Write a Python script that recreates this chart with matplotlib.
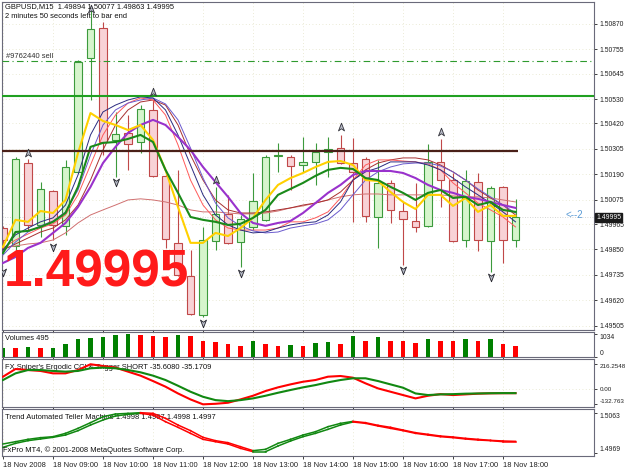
import matplotlib
matplotlib.use("Agg")
import matplotlib.pyplot as plt
from matplotlib.patches import Rectangle
from matplotlib.path import Path
from matplotlib.transforms import blended_transform_factory

plt.rcParams['font.family'] = ['Liberation Sans', 'DejaVu Sans']

############################################
# 1. data (GBPUSD M15, 18 Nov 2008)
############################################
opens = [1.49948, 1.49867, 1.50242, 1.49962, 1.50115, 1.49957, 1.50201, 1.50716, 1.50852, 1.50346,
         1.50377, 1.50337, 1.50481, 1.50183, 1.49880, 1.49731, 1.49555, 1.49889, 1.50011, 1.49885,
         1.49952, 1.49985, 1.50274, 1.50269, 1.50233, 1.50246, 1.50291, 1.50310, 1.50242, 1.50260,
         1.49998, 1.50151, 1.50025, 1.49980, 1.49957, 1.50246, 1.50165, 1.49894, 1.50156, 1.49889,
         1.50133, 1.49894]
highs = [1.49957, 1.50269, 1.50260, 1.50156, 1.50120, 1.50255, 1.50707, 1.50933, 1.50879, 1.50472,
         1.50459, 1.50504, 1.50526, 1.50210, 1.50210, 1.49849, 1.49952, 1.50133, 1.50097, 1.50007,
         1.50197, 1.50278, 1.50332, 1.50278, 1.50359, 1.50332, 1.50359, 1.50368, 1.50355, 1.50269,
         1.50255, 1.50165, 1.50065, 1.50151, 1.50328, 1.50350, 1.50197, 1.50210, 1.50197, 1.50135,
         1.50138, 1.50077]
lows = [1.49849, 1.49849, 1.49939, 1.49907, 1.49894, 1.49916, 1.50197, 1.50526, 1.50278, 1.50178,
        1.50210, 1.50287, 1.50178, 1.49857, 1.49731, 1.49555, 1.49546, 1.49849, 1.49876, 1.49772,
        1.49939, 1.49980, 1.50201, 1.50120, 1.50201, 1.50142, 1.50178, 1.50238, 1.49975, 1.49975,
        1.49857, 1.49971, 1.49781, 1.49930, 1.49953, 1.50043, 1.49885, 1.49862, 1.49844, 1.49749,
        1.49790, 1.49863]
closes = [1.49894, 1.50260, 1.49962, 1.50124, 1.49962, 1.50224, 1.50698, 1.50847, 1.50337, 1.50373,
          1.50328, 1.50486, 1.50183, 1.49898, 1.49736, 1.49559, 1.49894, 1.50011, 1.49880, 1.49989,
          1.50070, 1.50269, 1.50278, 1.50228, 1.50246, 1.50291, 1.50305, 1.50242, 1.50201, 1.50002,
          1.50151, 1.50029, 1.49989, 1.49952, 1.50246, 1.50165, 1.49889, 1.50160, 1.49894, 1.50129,
          1.49894, 1.49995]

ma_yellow = [1.49862, 1.49984, 1.49975, 1.50024, 1.50015, 1.50074, 1.50286, 1.50467, 1.50431, 1.50413,
             1.50390, 1.50413, 1.50345, 1.50210, 1.50042, 1.49880, 1.49880, 1.49925, 1.49911, 1.49947,
             1.49993, 1.50074, 1.50142, 1.50173, 1.50196, 1.50223, 1.50246, 1.50250, 1.50232, 1.50164,
             1.50160, 1.50110, 1.50065, 1.50033, 1.50097, 1.50097, 1.50047, 1.50083, 1.50020, 1.50051,
             1.50002, 1.50002]
ma_green = [1.49834, 1.49929, 1.49934, 1.49952, 1.49975, 1.50015, 1.50133, 1.50314, 1.50332, 1.50336,
            1.50350, 1.50368, 1.50336, 1.50210, 1.50106, 1.49997, 1.49984, 1.49975, 1.49961, 1.49966,
            1.49993, 1.50029, 1.50097, 1.50124, 1.50151, 1.50183, 1.50210, 1.50219, 1.50214, 1.50173,
            1.50164, 1.50133, 1.50106, 1.50074, 1.50106, 1.50119, 1.50083, 1.50088, 1.50051, 1.50065,
            1.50029, 1.50020]
ma_purple = [1.49789, 1.49816, 1.49857, 1.49880, 1.49925, 1.49970, 1.50042, 1.50133, 1.50241, 1.50314,
             1.50377, 1.50413, 1.50436, 1.50413, 1.50359, 1.50300, 1.50223, 1.50155, 1.50088, 1.50015,
             1.49970, 1.49957, 1.49970, 1.49979, 1.50015, 1.50060, 1.50106, 1.50142, 1.50187, 1.50205,
             1.50205, 1.50205, 1.50196, 1.50173, 1.50142, 1.50119, 1.50106, 1.50088, 1.50079, 1.50065,
             1.50051, 1.50038]
ma_navy = [1.49848, 1.49916, 1.49947, 1.49975, 1.49993, 1.50051, 1.50187, 1.50368, 1.50472, 1.50503,
           1.50526, 1.50540, 1.50535, 1.50481, 1.50368, 1.50232, 1.50097, 1.50006, 1.49961, 1.49938,
           1.49925, 1.49929, 1.49947, 1.49961, 1.49970, 1.49975, 1.50006, 1.50065, 1.50164, 1.50201,
           1.50219, 1.50246, 1.50246, 1.50246, 1.50232, 1.50210, 1.50173, 1.50133, 1.50097, 1.50060,
           1.50020, 1.49975]
ma_blue = [1.49825, 1.49884, 1.49929, 1.49957, 1.49979, 1.50020, 1.50119, 1.50277, 1.50413, 1.50481,
           1.50512, 1.50526, 1.50535, 1.50508, 1.50436, 1.50309, 1.50173, 1.50060, 1.49993, 1.49957,
           1.49934, 1.49925, 1.49929, 1.49947, 1.49957, 1.49966, 1.49984, 1.50029, 1.50097, 1.50164,
           1.50201, 1.50223, 1.50237, 1.50241, 1.50241, 1.50228, 1.50201, 1.50164, 1.50124, 1.50088,
           1.50051, 1.50015]
ma_red = [1.49857, 1.49893, 1.49920, 1.49947, 1.49966, 1.50006, 1.50097, 1.50232, 1.50368, 1.50458,
          1.50512, 1.50535, 1.50526, 1.50458, 1.50323, 1.50164, 1.50051, 1.49984, 1.49947, 1.49938,
          1.49938, 1.49938, 1.49947, 1.49975, 1.49975, 1.49993, 1.50020, 1.50083, 1.50164, 1.50232,
          1.50255, 1.50255, 1.50250, 1.50246, 1.50237, 1.50210, 1.50151, 1.50106, 1.50060, 1.50029,
          1.49997, 1.49952]
ma_brown = [1.49848, 1.49875, 1.49902, 1.49929, 1.49947, 1.49984, 1.50051, 1.50164, 1.50300, 1.50413,
            1.50481, 1.50517, 1.50526, 1.50503, 1.50413, 1.50277, 1.50164, 1.50074, 1.50029, 1.50015,
            1.50015, 1.50020, 1.50029, 1.50038, 1.50051, 1.50060, 1.50074, 1.50110, 1.50164, 1.50210,
            1.50241, 1.50255, 1.50264, 1.50264, 1.50255, 1.50232, 1.50201, 1.50164, 1.50119, 1.50083,
            1.50051, 1.50006]
ma_slow = [1.49857, 1.49866, 1.49875, 1.49880, 1.49893, 1.49925, 1.49970, 1.50006, 1.50029, 1.50051,
           1.50074, 1.50079, 1.50074, 1.50065, 1.50051, 1.50029, 1.50020, 1.50020, 1.50015, 1.50011,
           1.50011, 1.50015, 1.50024, 1.50038, 1.50047, 1.50060, 1.50074, 1.50088, 1.50097, 1.50101,
           1.50101, 1.50097, 1.50097, 1.50097, 1.50097, 1.50097, 1.50092, 1.50088, 1.50088, 1.50083,
           1.50074, 1.50065]

# fractal arrows (bar index, price)
up_idx = [2, 7, 12, 17, 27, 35]
up_px = [1.50287, 1.50937, 1.50562, 1.50165, 1.50404, 1.50381]
dn_idx = [0, 4, 9, 16, 19, 32, 39]
dn_px = [1.49749, 1.49862, 1.50156, 1.49518, 1.49744, 1.49758, 1.49726]

sell_level = 1.50702
green_level = 1.50544
brown_level = 1.50296
bid = 1.49995

volumes = [380, 370, 442, 373, 400, 580, 814, 856, 883, 966, 1034, 980, 925, 883, 1007, 952, 718, 676,
           552, 497, 690, 566, 469, 538, 483, 607, 649, 552, 925, 718, 883, 718, 700, 607, 787, 718,
           690, 814, 718, 814, 552, 495]

ergodic = [108, 175, 166, 158, 137, 137, 166, 216.25, 201, 187, 152, 117, 70, 21, -38, -90, -132.76,
           -128, -119, -90, -58, -17, 15, 41, 64, 79, 108, 114, 99, 50, 6, -23, -52, -81, -58, -44,
           -52, -46, -40, -37, -36, -35.6]
trigger = [79, 137, 166, 166, 158, 152, 158, 181, 187, 181, 166, 146, 117, 79, 29, -23, -67, -96, -105,
           -96, -81, -58, -32, -8, 15, 35, 59, 79, 94, 94, 70, 41, 12, -38, -52, -46, -44, -40, -38,
           -36, -35, -35.2]

tatm_a = [1.49819, 1.49912, 1.49975, 1.50014, 1.50053, 1.50107, 1.50209, 1.50341, 1.50458, 1.50552,
          1.50591, 1.50614, 1.50575, 1.50419, 1.50287, 1.50146, 1.50006, 1.49951, 1.49897, 1.49795,
          1.49717, 1.49717, 1.49850, 1.49967, 1.50068, 1.50146, 1.50240, 1.50341, 1.50412, 1.50380,
          1.50318, 1.50263, 1.50209, 1.50146, 1.50107, 1.50068, 1.50045, 1.50014, 1.49990, 1.49975,
          1.49951, 1.49951]
tatm_b = [1.49897, 1.49951, 1.50006, 1.50045, 1.50068, 1.50146, 1.50263, 1.50396, 1.50536, 1.50599,
          1.50614, 1.50630, 1.50614, 1.50497, 1.50341, 1.50209, 1.50053, 1.49975, 1.49928, 1.49834,
          1.49741, 1.49772, 1.49912, 1.50006, 1.50107, 1.50185, 1.50302, 1.50380, 1.50427, 1.50396,
          1.50334, 1.50287, 1.50224, 1.50162, 1.50123, 1.50084, 1.50061, 1.50029, 1.50006, 1.49983,
          1.49967, 1.49959]

price_ticks = [1.50870, 1.50755, 1.50645, 1.50530, 1.50420, 1.50305, 1.50190, 1.50075,
               1.49965, 1.49850, 1.49735, 1.49620, 1.49505]
time_ticks = [0, 4, 8, 12, 16, 20, 24, 28, 32, 36, 40]
time_labels = ["18 Nov 2008", "18 Nov 09:00", "18 Nov 10:00", "18 Nov 11:00", "18 Nov 12:00",
               "18 Nov 13:00", "18 Nov 14:00", "18 Nov 15:00", "18 Nov 16:00", "18 Nov 17:00",
               "18 Nov 18:00"]

############################################
# 2. layout
############################################
W, H = 625, 469
fig = plt.figure(figsize=(W / 100, H / 100), dpi=100)
fig.patch.set_facecolor("white")

def rect(top, bottom, left=2, right=594):
    return [left / W, 1 - bottom / H, (right - left) / W, (bottom - top) / H]

ax_main = fig.add_axes(rect(2, 330))
ax_vol = fig.add_axes(rect(332, 357))
ax_erg = fig.add_axes(rect(359, 407))
ax_tr = fig.add_axes(rect(409, 456))

FS = 5.4      # header / panel labels
YFS = 4.9     # right-hand scale labels
GRID = "#e4e4c8"
xs = list(range(len(closes)))

for ax in (ax_main, ax_vol, ax_erg, ax_tr):
    ax.set_xlim(-0.08, 47.28)
    ax.set_facecolor("white")
    for s in ax.spines.values():
        s.set_color("#6a6a7a")
        s.set_linewidth(0.8)
    ax.yaxis.tick_right()
    ax.tick_params(axis="y", direction="out", length=2.5, width=0.6, pad=1.5,
                   labelsize=YFS, colors="#202020")
    ax.set_xticks(time_ticks)
    ax.tick_params(axis="x", direction="out", length=2.5, width=0.6, pad=1.5,
                   labelsize=FS, colors="#202020")
    for t in time_ticks:
        ax.axvline(t, color=GRID, lw=0.6, ls=(0, (1, 3)), zorder=0)
    if ax is not ax_tr:
        ax.set_xticklabels([])

############################################
# 3. main price panel
############################################
ax_main.set_ylim(1.49486, 1.50969)
ax_main.set_yticks(price_ticks)
ax_main.set_yticklabels([f"{p:.5f}" for p in price_ticks])
for p in price_ticks:
    ax_main.axhline(p, color=GRID, lw=0.6, ls=(0, (1, 3)), zorder=0)

bw = 0.58
for i in xs:
    o, h, l, c = opens[i], highs[i], lows[i], closes[i]
    if c >= o:
        ec, fc = "#3c9a3c", "#d6f5cc"
    else:
        ec, fc = "#c04848", "#f8d2d6"
    ax_main.vlines(i, l, h, color=ec, lw=0.8, zorder=2)
    lo, hi = min(o, c), max(o, c)
    ax_main.add_patch(Rectangle((i - bw / 2, lo), bw, max(hi - lo, 0.00002),
                                facecolor=fc, edgecolor=ec, lw=0.8, zorder=2))

ax_main.plot(xs, ma_slow, color="#d07070", lw=0.7, zorder=3)
ax_main.plot(xs, ma_brown, color="#a83030", lw=0.7, zorder=3)
ax_main.plot(xs, ma_red, color="#ff5a5a", lw=0.7, zorder=3)
ax_main.plot(xs, ma_blue, color="#6a5acd", lw=0.7, zorder=3)
ax_main.plot(xs, ma_navy, color="#2a2a80", lw=0.7, zorder=3)
ax_main.plot(xs, ma_purple, color="#9932cc", lw=1.5, zorder=3)
ax_main.plot(xs, ma_yellow, color="#ffd000", lw=1.5, zorder=3)
ax_main.plot(xs, ma_green, color="#1a8a1a", lw=1.5, zorder=3)

ax_main.axhline(sell_level, color="#2e9a2e", lw=0.8, ls=(0, (6, 3, 1, 3)), zorder=4)
ax_main.axhline(green_level, color="#20a020", lw=1.5, zorder=4)
ax_main.hlines(brown_level, -0.08, 41.2, color="#4a2018", lw=1.6, zorder=4)
ax_main.axhline(bid, color="#c8c8c8", lw=0.6, ls=(0, (1, 2)), zorder=1)

# fractal arrows
arrow = Path([(0, 1), (0.7, -0.8), (0, -0.3), (-0.7, -0.8), (0, 1)],
             [Path.MOVETO, Path.LINETO, Path.LINETO, Path.LINETO, Path.CLOSEPOLY])
arrow_dn = Path([(x, -y) for x, y in arrow.vertices], arrow.codes)
ax_main.scatter(up_idx, up_px, marker=arrow, s=38, facecolor="#b8bcc8",
                edgecolor="#303038", linewidths=0.6, zorder=5)
ax_main.scatter(dn_idx, dn_px, marker=arrow_dn, s=38, facecolor="#b8bcc8",
                edgecolor="#202028", linewidths=0.6, zorder=5)

# current price tag on the axis
trans = blended_transform_factory(ax_main.transAxes, ax_main.transData)
ax_main.text(1.004, bid, "1.49995", transform=trans, fontsize=YFS, color="white",
             va="center", ha="left", zorder=6,
             bbox=dict(boxstyle="square,pad=0.15", fc="#1a1a1a", ec="#1a1a1a"))
ax_main.text(45.0, 1.50006, "<--2", fontsize=7, color="#5b9bd5", va="center", ha="left")

fig.text(5 / W, 1 - 7 / H, "GBPUSD,M15  1.49894 1.50077 1.49863 1.49995",
         fontsize=FS, color="#101010", va="center")
fig.text(5 / W, 1 - 16 / H, "2 minutes 50 seconds left to bar end",
         fontsize=FS, color="#101010", va="center")
fig.text(6 / W, 1 - 57 / H, "#9762440 sell", fontsize=FS, color="#303030", va="center")
fig.text(4 / W, 1 - 286 / H, "1.49995", fontsize=37, fontweight="bold",
         color="#ff1a1a", va="baseline", ha="left", zorder=10)

############################################
# 4. volumes
############################################
vol_colors = ["#008000"]
for i in range(1, len(volumes)):
    vol_colors.append("#008000" if volumes[i] > volumes[i - 1] else "#ff0000")
ax_vol.bar(xs, volumes, width=0.34, color=vol_colors, zorder=2)
ax_vol.set_ylim(-22, 1122)
ax_vol.set_yticks([1034, 0])
ax_vol.set_yticklabels(["1034", "0"])
ax_vol.get_yticklabels()[0].set_va("top")
ax_vol.get_yticklabels()[1].set_va("bottom")
ax_vol.text(0.005, 0.72, "Volumes 495", transform=ax_vol.transAxes, fontsize=FS,
            color="#101010", va="center", zorder=1)

############################################
# 5. ergodic cci
############################################
ax_erg.set_ylim(-156, 262)
ax_erg.set_yticks([216.2548, 0, -132.763])
ax_erg.set_yticklabels(["216.2548", "0.00", "-132.763"])
ax_erg.tick_params(axis="y", labelsize=4.5)
ax_erg.get_yticklabels()[0].set_va("top")
ax_erg.get_yticklabels()[2].set_va("bottom")
ax_erg.axhline(0, color=GRID, lw=0.6, ls=(0, (1, 3)), zorder=0)
ax_erg.text(0.005, 0.83, "FX Sniper's Ergodic CCI & Trigger SHORT -35.6080 -35.1709",
            transform=ax_erg.transAxes, fontsize=FS, color="#101010", va="center", zorder=1)
ax_erg.plot(xs, ergodic, color="#ff0000", lw=1.5, zorder=3)
ax_erg.plot(xs, trigger, color="#118811", lw=1.5, zorder=3)

############################################
# 6. trend automated teller machine
############################################
ax_tr.set_ylim(1.49616, 1.50716)
ax_tr.set_yticks([1.5063, 1.4969])
ax_tr.set_yticklabels(["1.5063", "1.4969"])
ax_tr.get_yticklabels()[0].set_va("top")
ax_tr.get_yticklabels()[1].set_va("bottom")
for i in range(len(xs) - 1):
    rising = (tatm_a[i + 1] + tatm_b[i + 1]) >= (tatm_a[i] + tatm_b[i])
    col = "#118811" if rising else "#ff0000"
    ax_tr.plot([i, i + 1], [tatm_a[i], tatm_a[i + 1]], color=col, lw=1.1, zorder=3)
    ax_tr.plot([i, i + 1], [tatm_b[i], tatm_b[i + 1]], color=col, lw=1.1, zorder=3)
ax_tr.text(0.005, 0.82, "Trend Automated Teller Machine 1.4998 1.4997 1.4998 1.4997",
           transform=ax_tr.transAxes, fontsize=FS, color="#101010", va="center", zorder=1)
ax_tr.text(0.002, 0.12, "FxPro MT4, \u00a9 2001-2008 MetaQuotes Software Corp.",
           transform=ax_tr.transAxes, fontsize=FS, color="#101010", va="center", zorder=4)
ax_tr.set_xticklabels(time_labels, ha="left")

fig.savefig("out.png", dpi=100, facecolor="white")
